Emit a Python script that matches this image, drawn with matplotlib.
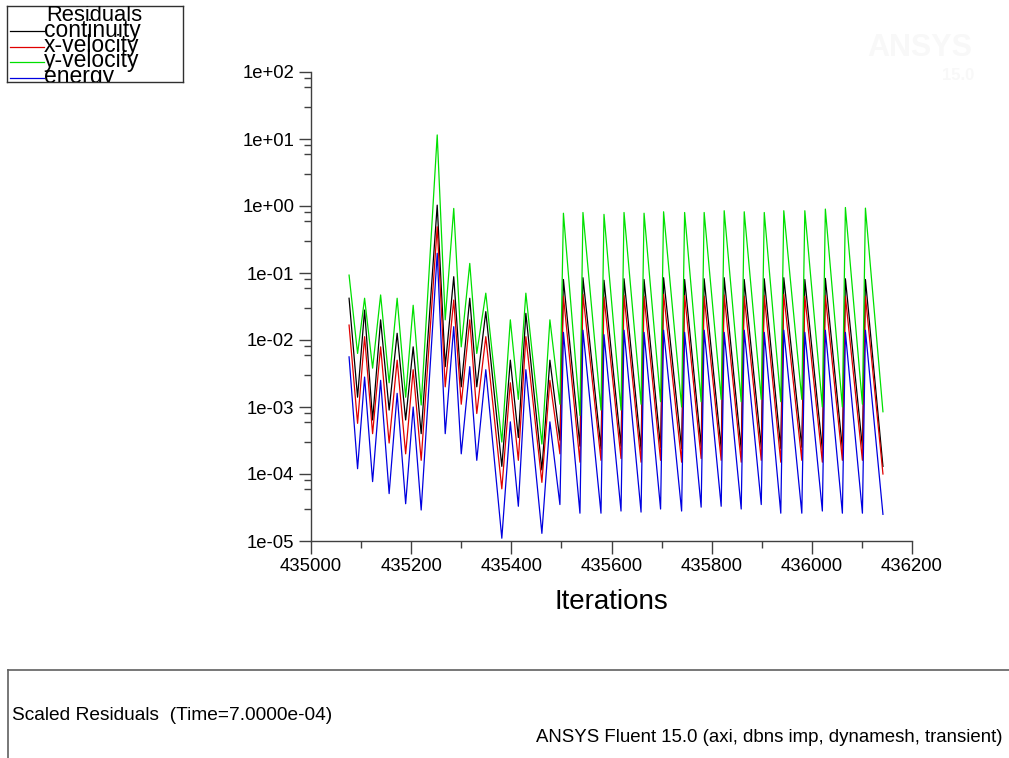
import matplotlib
matplotlib.use("Agg")
import matplotlib.pyplot as plt
from matplotlib.ticker import FixedLocator, FuncFormatter, MultipleLocator
from matplotlib.lines import Line2D

plt.rcParams['font.family'] = ['Liberation Sans', 'DejaVu Sans']

# residual history: turning points of each curve (peaks / valleys)
iterations = [
    435076, 435093, 435107, 435123, 435139, 435156, 435172, 435189, 435204, 435220,
    435252, 435268, 435285, 435300, 435317, 435331, 435349, 435381, 435398, 435414,
    435429, 435461, 435477, 435497,
    435504, 435537, 435543, 435579, 435585, 435619, 435625, 435659, 435665, 435698,
    435704, 435740, 435746, 435779, 435785, 435819, 435825, 435859, 435865, 435899,
    435905, 435938, 435944, 435980, 435986, 436021, 436027, 436061, 436067, 436101,
    436107, 436142,
]

continuity = [
    0.042, 1.4e-3, 0.028, 6.4e-4, 0.020, 9.0e-4, 0.0126, 6.4e-4, 0.0079, 4.0e-4,
    1.03, 4.0e-3, 0.088, 2.0e-3, 0.042, 2.0e-3, 0.0265, 1.3e-4, 5.0e-3, 3.5e-4,
    0.025, 1.15e-4, 5.0e-3, 3.2e-4,
    0.080, 2.6e-4, 0.085, 2.4e-4, 0.078, 2.6e-4, 0.082, 2.3e-4, 0.080, 2.5e-4,
    0.085, 2.4e-4, 0.080, 2.6e-4, 0.082, 2.4e-4, 0.085, 2.3e-4, 0.080, 2.5e-4,
    0.082, 2.4e-4, 0.085, 2.5e-4, 0.080, 2.3e-4, 0.083, 2.4e-4, 0.082, 2.5e-4,
    0.080, 1.3e-4,
]

x_velocity = [
    0.0167, 5.7e-4, 0.0112, 4.0e-4, 0.0079, 2.9e-4, 5.0e-3, 2.0e-4, 3.6e-3, 1.6e-4,
    0.49, 2.0e-3, 0.0395, 1.1e-3, 0.020, 8.0e-4, 0.0112, 6.0e-5, 2.3e-3, 1.6e-4,
    0.0112, 7.5e-5, 2.5e-3, 2.0e-4,
    0.045, 1.5e-4, 0.048, 1.6e-4, 0.044, 1.7e-4, 0.046, 1.5e-4, 0.045, 1.6e-4,
    0.048, 1.5e-4, 0.046, 1.7e-4, 0.045, 1.6e-4, 0.047, 1.5e-4, 0.045, 1.6e-4,
    0.046, 1.5e-4, 0.048, 1.6e-4, 0.045, 1.5e-4, 0.046, 1.6e-4, 0.045, 1.6e-4,
    0.045, 1.0e-4,
]

y_velocity = [
    0.093, 6.3e-3, 0.042, 3.8e-3, 0.047, 2.3e-3, 0.042, 1.4e-3, 0.033, 1.07e-3,
    11.5, 0.020, 0.92, 7.9e-3, 0.139, 6.3e-3, 0.050, 3.0e-4, 0.020, 1.3e-3,
    0.050, 2.8e-4, 0.020, 1.1e-3,
    0.78, 7.5e-4, 0.80, 9.0e-4, 0.75, 9.0e-4, 0.80, 1.1e-3, 0.78, 1.2e-3,
    0.82, 1.0e-3, 0.80, 1.2e-3, 0.80, 1.3e-3, 0.85, 1.2e-3, 0.82, 1.3e-3,
    0.80, 1.2e-3, 0.85, 1.3e-3, 0.85, 1.0e-3, 0.90, 1.0e-3, 0.95, 1.1e-3,
    0.93, 8.5e-4,
]

energy = [
    5.6e-3, 1.2e-4, 2.8e-3, 7.7e-5, 2.5e-3, 5.1e-5, 1.6e-3, 3.6e-5, 1.0e-3, 2.9e-5,
    0.197, 4.0e-4, 0.0158, 2.0e-4, 4.0e-3, 1.6e-4, 3.6e-3, 1.1e-5, 6.0e-4, 3.3e-5,
    3.6e-3, 1.3e-5, 6.0e-4, 3.5e-5,
    0.013, 2.6e-5, 0.014, 2.6e-5, 0.012, 2.8e-5, 0.014, 2.7e-5, 0.013, 3.0e-5,
    0.014, 2.8e-5, 0.013, 3.2e-5, 0.014, 3.3e-5, 0.013, 3.0e-5, 0.014, 3.5e-5,
    0.013, 2.6e-5, 0.014, 2.6e-5, 0.013, 2.8e-5, 0.014, 2.6e-5, 0.013, 2.6e-5,
    0.014, 2.5e-5,
]

series_names = ['continuity', 'x-velocity', 'y-velocity', 'energy']
series_colors = ['#000000', '#e00000', '#00e000', '#0000e0']
series_data = [continuity, x_velocity, y_velocity, energy]

W, H = 1009, 758
fig = plt.figure(figsize=(W / 100, H / 100), dpi=100)
fig.patch.set_facecolor('white')

def fx(px):
    return px / W

def fy(py):
    return 1 - py / H

# main plot
ax = fig.add_axes([fx(311), fy(541), fx(912) - fx(311), fy(72) - fy(541)])
for name, col, vals in zip(series_names, series_colors, series_data):
    ax.plot(iterations, vals, color=col, lw=0.9)

ax.set_yscale('log')
ax.set_ylim(1e-5, 1e2)
ax.set_xlim(435000, 436200)
ax.yaxis.set_major_locator(FixedLocator([10.0 ** k for k in range(-5, 3)]))
ax.yaxis.set_minor_locator(FixedLocator([m * 10.0 ** k for k in range(-5, 2) for m in (3, 6, 8)]))
ax.yaxis.set_major_formatter(FuncFormatter(lambda v, p: f"{v:.0e}"))
ax.yaxis.set_minor_formatter(FuncFormatter(lambda v, p: ""))
ax.xaxis.set_major_locator(MultipleLocator(200))
ax.xaxis.set_minor_locator(MultipleLocator(100))

for side in ('top', 'right'):
    ax.spines[side].set_visible(False)
for side in ('left', 'bottom'):
    ax.spines[side].set_color('#404040')
    ax.spines[side].set_linewidth(1.0)

ax.tick_params(which='major', direction='out', length=9, width=1, color='#404040',
               labelsize=13.3, pad=3)
ax.tick_params(which='minor', direction='out', length=5, width=1, color='#404040')
ax.set_xlabel('Iterations', fontsize=20, labelpad=10)

# legend box in the top-left corner
leg = fig.add_axes([fx(7), fy(82), fx(183) - fx(7), fy(6) - fy(82)])
leg.set_xlim(0, 176)
leg.set_ylim(76, 0)
leg.set_xticks([])
leg.set_yticks([])
for sp in leg.spines.values():
    sp.set_color('#303030')
    sp.set_linewidth(1.0)
leg.text(39, 15, 'Residuals', fontsize=15.8, va='baseline', ha='left', clip_on=True)
for i, (name, col) in enumerate(zip(series_names, series_colors)):
    base = 30.5 + 15.5 * i
    leg.plot([3, 37], [base - 5.5, base - 5.5], color=col, lw=0.9)
    leg.text(37, base, name, fontsize=16.5, va='baseline', ha='left', clip_on=True)

# faint ANSYS watermark
fig.text(fx(920), fy(48), 'ANSYS', fontsize=22, fontweight='bold', color='#f8f8f8',
         ha='center', va='center')
fig.text(fx(958), fy(76), '15.0', fontsize=12, fontweight='bold', color='#f8f8f8',
         ha='center', va='center')

# footer panel
fig.add_artist(Line2D([fx(8), 1.0], [fy(670), fy(670)], color='#606060', lw=1.2))
fig.add_artist(Line2D([fx(8), fx(8)], [fy(670), 0.0], color='#606060', lw=1.2))
fig.text(fx(12), fy(716), 'Scaled Residuals  (Time=7.0000e-04)', fontsize=13.8,
         ha='left', va='center')
fig.text(fx(1003), fy(737), 'ANSYS Fluent 15.0 (axi, dbns imp, dynamesh, transient)',
         fontsize=13.4, ha='right', va='center')

fig.savefig('out.png', dpi=100)
